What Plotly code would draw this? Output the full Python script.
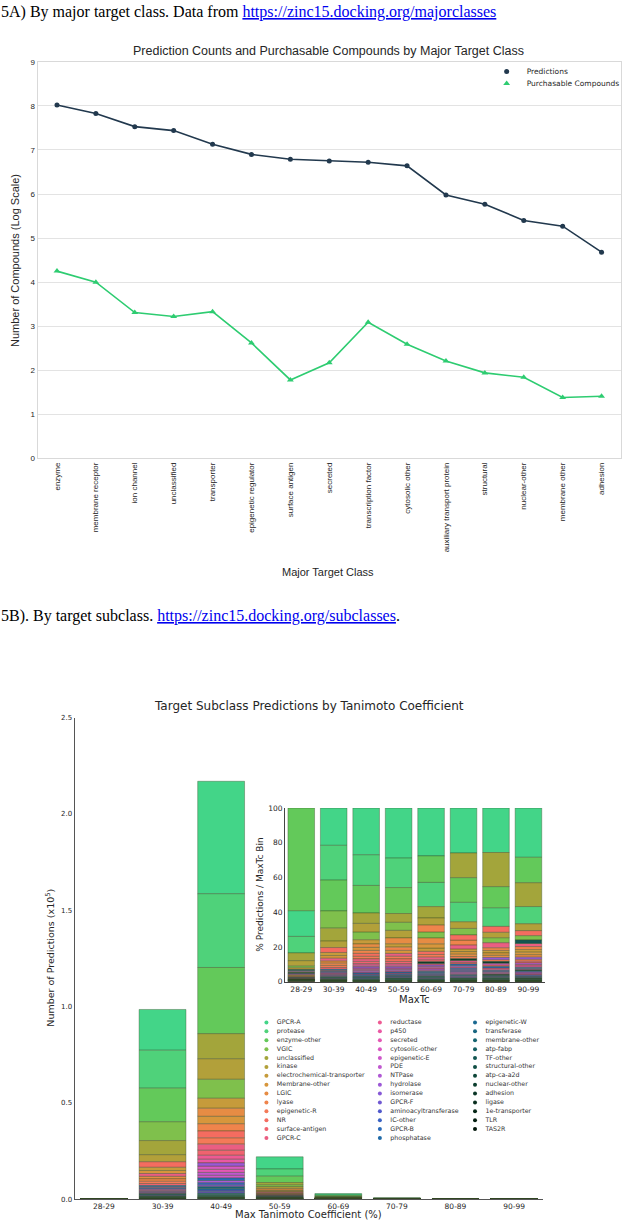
import plotly.graph_objects as go

W, H = 625, 1227

# ---------------- data: panel A ----------------
major_classes = ["enzyme", "membrane receptor", "ion channel", "unclassified", "transporter",
                 "epigenetic regulator", "surface antigen", "secreted", "transcription factor",
                 "cytosolic other", "auxiliary transport protein", "structural", "nuclear-other",
                 "membrane other", "adhesion"]
predictions_log = [8.02, 7.83, 7.53, 7.44, 7.13, 6.90, 6.79, 6.75, 6.72, 6.64, 5.98, 5.77, 5.40, 5.27, 4.68]
purchasable_log = [4.25, 4.00, 3.31, 3.22, 3.33, 2.62, 1.78, 2.17, 3.09, 2.59, 2.21, 1.94, 1.84, 1.38, 1.41]

# ---------------- data: panel B ----------------
tc_bins = ["28-29", "30-39", "40-49", "50-59", "60-69", "70-79", "80-89", "90-99"]
bin_totals = [0.003, 0.985, 2.17, 0.22, 0.029, 0.007, 0.002, 0.001]   # x10^5 predictions

subclasses = ["GPCR-A", "protease", "enzyme-other", "VGIC", "unclassified", "kinase",
              "electrochemical-transporter", "Membrane-other", "LGIC", "lyase", "epigenetic-R",
              "NR", "surface-antigen", "GPCR-C",
              "reductase", "p450", "secreted", "cytosolic-other", "epigenetic-E", "PDE", "NTPase",
              "hydrolase", "isomerase", "GPCR-F", "aminoacyltransferase", "IC-other", "GPCR-B",
              "phosphatase",
              "epigenetic-W", "transferase", "membrane-other", "atp-fabp", "TF-other",
              "structural-other", "atp-ca-a2d", "nuclear-other", "adhesion", "ligase",
              "1e-transporter", "TLR", "TAS2R"]

# share of each subclass (%) within each MaxTc bin
pct_28_29 = [15.2, 9.7, 60.4, 1.2, 4.6, 3.0, 0.9, 0.6, 0.5, 0.4, 0.3, 0.3, 0.2, 0.5,
             0.2, 0.1, 0.1, 0.2, 0.1, 0.2, 0.1, 0.6, 0.1, 0.5, 0.1, 0.2, 0.1, 0.1,
             0.1, 0.1, 0.1, 0.0, 0.6, 0.1, 0.0, 0.5, 0.1, 0.1, 0.0, 0.1, 0.0]
pct_30_39 = [21.9, 20.4, 18.1, 10.1, 7.6, 3.8, 1.8, 1.6, 1.4, 1.3, 1.2, 2.9, 1.1, 1.5,
             0.6, 0.5, 0.4, 0.5, 0.3, 0.5, 0.4, 0.4, 0.3, 0.2, 0.3, 0.5, 0.6, 0.3,
             0.2, 0.3, 0.2, 0.1, 0.2, 0.1, 0.1, 0.1, 0.1, 0.1, 0.0, 0.0, 0.0]
pct_40_49 = [28.2, 18.5, 16.6, 4.8, 6.3, 5.1, 2.5, 1.9, 2.0, 1.8, 1.6, 1.7, 1.3, 1.5,
             1.0, 0.9, 0.8, 0.8, 0.7, 0.7, 0.6, 0.8, 0.5, 0.4, 0.4, 0.5, 0.6, 0.4,
             0.3, 0.4, 0.3, 0.2, 0.2, 0.1, 0.1, 0.1, 0.1, 0.1, 0.0, 0.0, 0.0]
pct_50_59 = [29.3, 17.3, 15.2, 4.8, 5.1, 4.4, 2.0, 1.8, 3.4, 1.9, 1.6, 1.5, 1.2, 1.6,
             1.0, 0.9, 0.7, 0.8, 0.6, 0.7, 0.5, 0.8, 0.4, 0.4, 0.4, 0.5, 0.6, 0.4,
             0.3, 0.3, 0.3, 0.2, 0.3, 0.1, 0.1, 0.2, 0.1, 0.1, 0.0, 0.0, 0.0]
pct_60_69 = [28.2, 14.3, 15.6, 3.6, 6.7, 4.2, 2.0, 2.5, 3.4, 4.0, 1.6, 1.8, 1.2, 1.5,
             0.9, 0.8, 0.7, 0.8, 0.6, 0.7, 0.5, 0.8, 0.4, 0.4, 0.5, 0.6, 0.6, 0.4,
             0.3, 0.3, 0.3, 0.2, 0.4, 0.2, 0.1, 1.0, 0.1, 0.1, 0.1, 0.0, 0.0]
pct_70_79 = [26.1, 11.4, 14.3, 3.8, 14.3, 3.8, 1.6, 1.5, 1.4, 2.9, 1.2, 3.0, 1.0, 2.2,
             1.0, 0.8, 0.6, 0.7, 0.6, 0.6, 0.5, 0.8, 0.5, 0.4, 0.6, 0.7, 0.8, 0.5,
             0.3, 0.3, 0.3, 0.2, 0.3, 0.2, 0.1, 1.1, 0.2, 0.1, 0.1, 0.1, 0.0]
pct_80_89 = [26.1, 11.0, 12.4, 3.0, 20.0, 3.2, 1.5, 1.4, 1.3, 1.6, 1.1, 3.4, 1.0, 2.9,
             0.8, 0.7, 0.6, 1.0, 0.5, 0.6, 0.4, 1.2, 0.4, 0.3, 0.4, 0.6, 0.8, 0.4,
             0.3, 0.3, 0.2, 0.2, 0.3, 0.1, 0.1, 1.0, 0.4, 0.2, 0.1, 0.1, 0.1]
pct_90_99 = [28.8, 10.1, 14.9, 2.5, 13.9, 4.0, 1.6, 1.5, 1.4, 1.7, 1.2, 2.9, 1.0, 1.8,
             0.9, 0.8, 0.6, 0.7, 0.6, 0.9, 0.6, 1.2, 0.5, 0.4, 0.5, 0.6, 0.7, 0.4,
             0.3, 0.3, 0.3, 0.2, 2.1, 0.2, 0.1, 0.6, 0.3, 0.2, 0.1, 0.1, 0.1]

bin_shares = [pct_28_29, pct_30_39, pct_40_49, pct_50_59, pct_60_69, pct_70_79, pct_80_89, pct_90_99]

# ---------------- style ----------------
subclass_colors = ["#43d588", "#4fd27a", "#63c95a", "#7fc04c", "#a3a53b", "#b2a03a", "#c69b3b",
                   "#d7963c", "#e68c44", "#ef844c", "#f47a58", "#f46c60", "#f0636f", "#ea5e82",
                   "#ee5a93", "#ea58a4", "#e458b4", "#da58c2", "#ce58ca", "#c058d0", "#b058d4",
                   "#9c58d6", "#8658d6", "#7058d2", "#5058cc", "#3a62c4", "#2a6ab8", "#1f6aa8",
                   "#1a6890", "#186680", "#166470", "#145e62", "#125652", "#104e44", "#0e4638",
                   "#0c3e2e", "#0a3626", "#082e1e", "#062616", "#041e10", "#02160a"]
NAVY = "#22394e"
GREEN = "#2ecc71"
TXT = "#262626"
SANS = "Liberation Sans"
DJV = "DejaVu Sans"
SERIF = "Liberation Serif"


def fx(px):
    return px / W


def fy(py):
    return 1 - py / H


def stacked(values):
    """largest share on top of each bar"""
    order = sorted(range(len(values)), key=lambda i: values[i])
    base = [0.0] * len(values)
    acc = 0.0
    for i in order:
        base[i] = acc
        acc += values[i]
    return base


main_vals, main_base, inset_vals, inset_base = [], [], [], []
for b, shares in enumerate(bin_shares):
    s = sum(shares)
    mv = [bin_totals[b] * v / s for v in shares]
    iv = [100.0 * v / s for v in shares]
    main_vals.append(mv)
    main_base.append(stacked(mv))
    inset_vals.append(iv)
    inset_base.append(stacked(iv))

fig = go.Figure()

# ---------- panel A: line chart ----------
for ys, nm, col, sym, sz, lg in [(predictions_log, "Predictions", NAVY, "circle", 5, "legend"),
                                 (purchasable_log, "Purchasable Compounds", GREEN, "triangle-up", 6,
                                  "legend2")]:
    fig.add_trace(go.Scatter(x=major_classes, y=ys, mode="lines", name=nm,
                             line=dict(color=col, width=1.6), showlegend=False,
                             xaxis="x3", yaxis="y3", hoverinfo="skip"))
    fig.add_trace(go.Scatter(x=major_classes, y=ys, mode="markers", name=nm, legend=lg,
                             marker=dict(symbol=sym, size=sz, color=col),
                             xaxis="x3", yaxis="y3", hoverinfo="skip"))

# ---------- panel B: stacked bars (main + inset) ----------
edge = dict(color="rgba(55,75,40,0.55)", width=0.7)
for c, name in enumerate(subclasses):
    ys = [main_vals[b][c] if main_vals[b][c] > 0 else None for b in range(len(tc_bins))]
    bs = [main_base[b][c] for b in range(len(tc_bins))]
    fig.add_trace(go.Bar(x=tc_bins, y=ys, base=bs, name=name, width=0.8,
                         marker=dict(color=subclass_colors[c], line=edge),
                         showlegend=False, xaxis="x", yaxis="y", hoverinfo="skip"))
for c, name in enumerate(subclasses):
    ys = [inset_vals[b][c] if inset_vals[b][c] > 0 else None for b in range(len(tc_bins))]
    bs = [inset_base[b][c] for b in range(len(tc_bins))]
    fig.add_trace(go.Bar(x=tc_bins, y=ys, base=bs, name=name, width=0.82,
                         marker=dict(color=subclass_colors[c], line=edge),
                         showlegend=False, xaxis="x2", yaxis="y2", hoverinfo="skip"))

# ---------- subclass legend (3 columns, drawn on a hidden page-sized axis) ----------
col_dot_px = [267.7, 381.7, 477.3]
rows_per_col = 14
leg_top, leg_step = 1026.0, 8.95
lx, ly, ltx = [], [], []
for c, name in enumerate(subclasses):
    col, row = divmod(c, rows_per_col)
    lx.append(col_dot_px[col])
    ly.append(leg_top + row * leg_step)
    ltx.append(col_dot_px[col] + 10.5)
fig.add_trace(go.Scatter(x=lx, y=ly, mode="markers", showlegend=False, hoverinfo="skip",
                         marker=dict(size=4, color=subclass_colors), xaxis="x4", yaxis="y4"))
fig.add_trace(go.Scatter(x=ltx, y=ly, mode="text", text=subclasses, textposition="middle right",
                         textfont=dict(family=DJV, size=6.3, color="#333333"),
                         showlegend=False, hoverinfo="skip", xaxis="x4", yaxis="y4"))

axis_common = dict(zeroline=False, fixedrange=True)
leg_common = dict(xanchor="left", yanchor="middle", font=dict(family=DJV, size=7.5, color=TXT),
                  bgcolor="rgba(0,0,0,0)", itemwidth=30, tracegroupgap=0)

fig.update_layout(
    width=W, height=H,
    margin=dict(l=0, r=0, t=0, b=0),
    paper_bgcolor="white", plot_bgcolor="rgba(0,0,0,0)",
    barmode="overlay", bargap=0.2,
    showlegend=True,
    legend=dict(x=fx(489), y=fy(68), **leg_common),
    legend2=dict(x=fx(489), y=fy(80), **leg_common),
    # panel B main
    xaxis=dict(domain=[fx(75), fx(546)], range=[-0.5, 7.5], anchor="y", showgrid=False,
               showline=True, linecolor="#555555", linewidth=1, ticks="",
               tickfont=dict(family=DJV, size=7.5, color=TXT), **axis_common),
    yaxis=dict(domain=[fy(1204), fy(719)], range=[0, 2.5], dtick=0.5, tickformat=".1f",
               anchor="x", showgrid=False, showline=True, linecolor="#555555", linewidth=1,
               ticks="", tickfont=dict(family=DJV, size=7, color=TXT), **axis_common),
    # inset
    xaxis2=dict(domain=[fx(286.4), fx(547.3)], range=[-0.5, 7.5], anchor="y2", showgrid=False,
                showline=True, linecolor="#444444", linewidth=1, ticks="",
                tickfont=dict(family=DJV, size=7.5, color=TXT), **axis_common),
    yaxis2=dict(domain=[fy(985), fy(810)], range=[0, 100], dtick=20, anchor="x2", showgrid=False,
                showline=True, linecolor="#444444", linewidth=1, ticks="",
                tickfont=dict(family=DJV, size=7.5, color=TXT), **axis_common),
    # panel A
    xaxis3=dict(domain=[fx(37.7), fx(624)], range=[-0.5, 14.5], anchor="y3", showgrid=False,
                showline=True, mirror=True, linecolor="#d9d9d9", linewidth=1, ticks="",
                tickangle=-90, tickfont=dict(family=SANS, size=8, color=TXT), **axis_common),
    yaxis3=dict(domain=[fy(457.7), fy(58.3)], range=[0, 9], dtick=1, anchor="x3",
                showgrid=True, gridcolor="#e3e3e3", gridwidth=1,
                showline=True, mirror=True, linecolor="#d9d9d9", linewidth=1, ticks="",
                tickfont=dict(family=SANS, size=8, color=TXT), **axis_common),
    # legend canvas (page pixels)
    xaxis4=dict(domain=[0, 1], range=[0, W], anchor="y4", visible=False, **axis_common),
    yaxis4=dict(domain=[0, 1], range=[H, 0], anchor="x4", visible=False, **axis_common),
)

link = "color:#0000EE"
ann = [
    dict(text="5A) By major target class. Data from "
              f"<span style='{link}'><u>https://zinc15.docking.org/majorclasses</u></span>",
         x=0, y=fy(8), xanchor="left", yanchor="middle", xshift=-1,
         font=dict(family=SERIF, size=16, color="#000000")),
    dict(text="Prediction Counts and Purchasable Compounds by Major Target Class",
         x=fx(330), y=fy(47), xanchor="center", yanchor="middle",
         font=dict(family=SANS, size=12.5, color=TXT)),
    dict(text="Number of Compounds (Log Scale)", x=fx(15), y=fy(258), textangle=-90,
         xanchor="center", yanchor="middle", font=dict(family=SANS, size=11, color=TXT)),
    dict(text="Major Target Class", x=fx(330), y=fy(572), xanchor="center", yanchor="middle",
         font=dict(family=SANS, size=11, color=TXT)),
    dict(text="5B). By target subclass. "
              f"<span style='{link}'><u>https://zinc15.docking.org/subclasses</u></span>.",
         x=0, y=fy(617), xanchor="left", yanchor="middle", xshift=-1,
         font=dict(family=SERIF, size=16, color="#000000")),
    dict(text="Target Subclass Predictions by Tanimoto Coefficient", x=fx(310), y=fy(707),
         xanchor="center", yanchor="middle", font=dict(family=DJV, size=12, color=TXT)),
    dict(text="Number of Predictions (x10<sup>5</sup>)", x=fx(50), y=fy(961), textangle=-90,
         xanchor="center", yanchor="middle", font=dict(family=DJV, size=9.5, color=TXT)),
    dict(text="Max Tanimoto Coefficient (%)", x=fx(310), y=fy(1219), xanchor="center",
         yanchor="middle", font=dict(family=DJV, size=10, color=TXT)),
    dict(text="% Predictions / MaxTc Bin", x=fx(261), y=fy(897.5), textangle=-90,
         xanchor="center", yanchor="middle", font=dict(family=DJV, size=9, color=TXT)),
    dict(text="MaxTc", x=fx(417), y=fy(1003), xanchor="center", yanchor="middle",
         font=dict(family=DJV, size=10, color=TXT)),
]
for a in ann:
    a.update(xref="paper", yref="paper", showarrow=False)
fig.update_layout(annotations=ann)

fig.write_html("out.html", config={"displayModeBar": False},
               post_script="document.body.style.margin='0px';"
                           "document.body.style.padding='0px';"
                           "document.body.style.overflow='hidden';")
